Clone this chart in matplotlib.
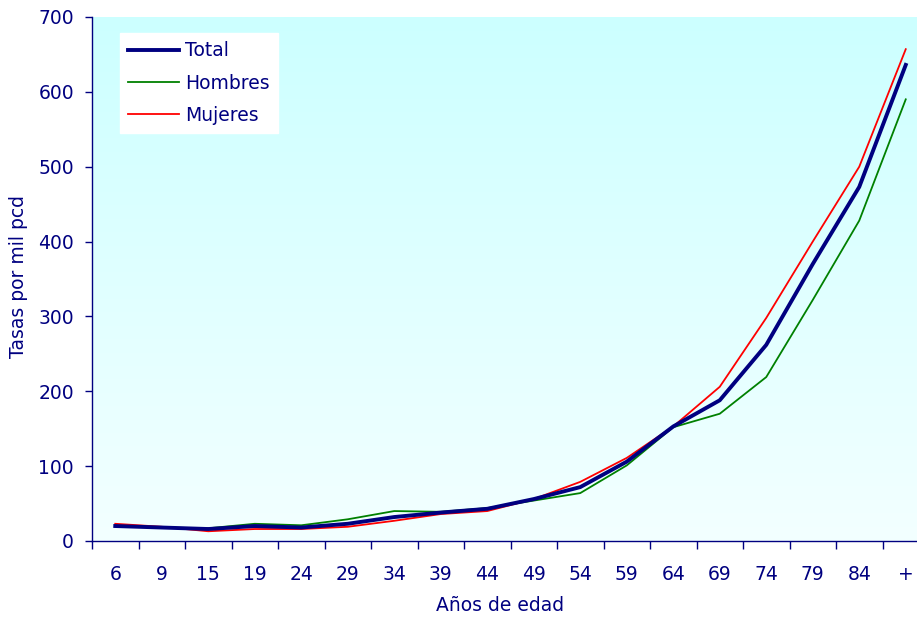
import numpy as np
import matplotlib
matplotlib.use("Agg")
import matplotlib.pyplot as plt
from matplotlib.colors import LinearSegmentedColormap

categories = ["6", "9", "15", "19", "24", "29", "34", "39", "44", "49", "54", "59",
              "64", "69", "74", "79", "84", "+"]
total = [20, 18, 16, 20, 18, 23, 32, 38, 43, 56, 72, 106, 153, 188, 262, 370, 473, 636]
hombres = [21, 18, 17, 23, 21, 29, 40, 39, 44, 54, 64, 101, 152, 170, 219, 322, 428, 590]
mujeres = [23, 19, 13, 16, 16, 19, 27, 36, 40, 56, 79, 111, 153, 206, 298, 400, 500, 657]

navy = "#000080"
W, H = 917, 617
fig = plt.figure(figsize=(W / 100, H / 100), dpi=100)
ax = fig.add_axes([92 / W, (H - 541) / H, 837 / W, 524 / H])

x = np.arange(len(categories))
ax.set_xlim(-0.5, len(categories) - 0.5)
ax.set_ylim(0, 700)

# gradient background
cmap = LinearSegmentedColormap.from_list("bg", ["#F3FFFF", "#CCFFFF"])
grad = np.linspace(0, 1, 256).reshape(-1, 1)
ax.imshow(grad, aspect="auto", cmap=cmap, origin="lower",
          extent=[-0.5, len(categories) - 0.5, 0, 700], zorder=0)

ax.plot(x, total, color=navy, lw=2.8, label="Total", zorder=4, solid_joinstyle="round")
ax.plot(x, hombres, color="#008000", lw=1.3, label="Hombres", zorder=3)
ax.plot(x, mujeres, color="#FF0000", lw=1.3, label="Mujeres", zorder=3)

for s in ["top", "right"]:
    ax.spines[s].set_visible(False)
for s in ["left", "bottom"]:
    ax.spines[s].set_color(navy)
    ax.spines[s].set_linewidth(1.0)

ax.set_yticks(np.arange(0, 701, 100))
ax.tick_params(axis="y", colors=navy, labelsize=13.5, length=5, width=1, direction="out", pad=8)
ax.set_xticks(x)
ax.set_xticklabels(categories)
ax.set_xticks(np.arange(-0.5, len(categories) + 0.5, 1), minor=True)
ax.tick_params(axis="x", which="major", length=0, colors=navy, labelsize=13.5, pad=17)
ax.tick_params(axis="x", which="minor", length=6, width=1, color=navy, direction="out")
for lab in ax.get_xticklabels() + ax.get_yticklabels():
    lab.set_color(navy)

ax.set_xlabel("Años de edad", color=navy, fontsize=13.5)
ax.set_ylabel("Tasas por mil pcd", color=navy, fontsize=13.5)
ax.xaxis.set_label_coords((500 - 92) / 837, -(596 - 541) / 524)
ax.yaxis.set_label_coords(-(92 - 28) / 837, (541 - 276) / 524)

leg = ax.legend(loc="upper left", bbox_to_anchor=(28 / 837, 1 - 16 / 524),
                frameon=True, fancybox=False, fontsize=13.5, handlelength=2.7,
                handletextpad=0.3, labelspacing=0.7, borderpad=0.45, borderaxespad=0)
leg.get_frame().set_facecolor("white")
leg.get_frame().set_edgecolor("white")
leg.get_frame().set_alpha(1)
for t in leg.get_texts():
    t.set_color(navy)

fig.savefig("out.png", dpi=100)
